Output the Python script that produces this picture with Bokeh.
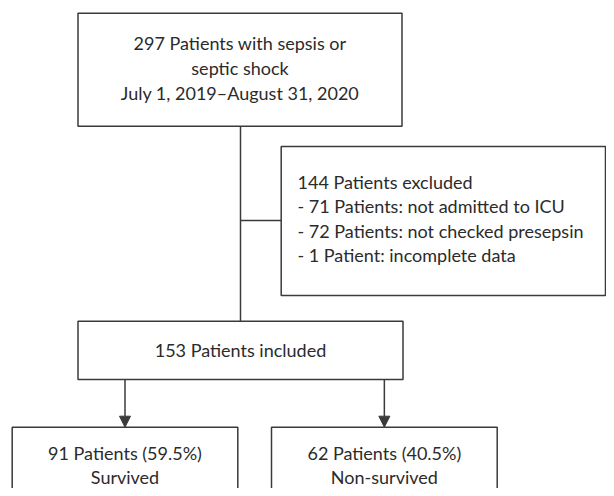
from bokeh.plotting import figure
from bokeh.models import Range1d, Arrow, NormalHead
from bokeh.core.properties import value
from bokeh.embed import file_html
from bokeh.resources import INLINE

# ---- data ----
total_patients = 297
period = "July 1, 2019\u2013August 31, 2020"
excluded_total = 144
excluded_reasons = ["not admitted to ICU", "not checked presepsin", "incomplete data"]
excluded_counts = [71, 72, 1]
included_total = 153
outcome_labels = ["Survived", "Non-survived"]
outcome_counts = [91, 62]
outcome_pcts = [59.5, 40.5]

# ---- style ----
LINE = "#3a3a3a"
TXT = "#2b2b2b"
FONT = value("Lato")
FS = "18px"
DY = -7  # baseline correction

p = figure(width=606, height=488, output_backend="svg", toolbar_location=None,
           x_range=Range1d(0, 606), y_range=Range1d(488, 0),
           min_border=0, outline_line_color=None)
p.axis.visible = False
p.grid.visible = False
p.background_fill_color = "white"

# boxes: (left, right, top, bottom) in pixel coordinates
box_top = (77.5, 401.5, 12.7, 125.7)
box_excl = (280.7, 605, 146, 295)
box_incl = (77.5, 402.5, 320.7, 379)
box_out = [(11.7, 237.3, 426.7, 520), (271, 496.7, 426.7, 520)]

boxes = [box_top, box_excl, box_incl] + box_out
p.quad(left=[b[0] for b in boxes], right=[b[1] for b in boxes],
       top=[b[2] for b in boxes], bottom=[b[3] for b in boxes],
       fill_color="white", line_color=LINE, line_width=1.5)

# connectors
p.segment(x0=[240, 240], y0=[box_top[3], 220], x1=[240, box_excl[0]], y1=[box_incl[2], 220],
          line_color=LINE, line_width=1.5)
for b in box_out:
    cx = (b[0] + b[1]) / 2
    p.add_layout(Arrow(end=NormalHead(size=11, fill_color=LINE, line_color=LINE, line_width=1),
                       x_start=cx, y_start=box_incl[3], x_end=cx, y_end=b[2],
                       line_color=LINE, line_width=1.5))

def txt(xs, ys, texts, align="center"):
    p.text(x=xs, y=[y + DY for y in ys], text=texts, text_align=align, text_baseline="alphabetic",
           text_font=FONT, text_font_size=FS, text_color=TXT)

# top box
top_lines = [f"{total_patients} Patients with sepsis or", "septic shock", period]
txt([239.5] * 3, [49.3, 74, 99], top_lines)

# exclusion box
excl_lines = [f"{excluded_total} Patients excluded"] + [
    f"- {c} {'Patient' if c == 1 else 'Patients'}: {r}" for c, r in zip(excluded_counts, excluded_reasons)]
txt([297] * 4, [188.3, 212.6, 237, 261.5], excl_lines, align="left")

# included box
txt([240], [356.7], [f"{included_total} Patients included"])

# outcome boxes
for b, c, pc, lab in zip(box_out, outcome_counts, outcome_pcts, outcome_labels):
    cx = (b[0] + b[1]) / 2
    txt([cx, cx], [459.3, 483.3], [f"{c} Patients ({pc}%)", lab])

open("out.html", "w").write(file_html(p, INLINE))
